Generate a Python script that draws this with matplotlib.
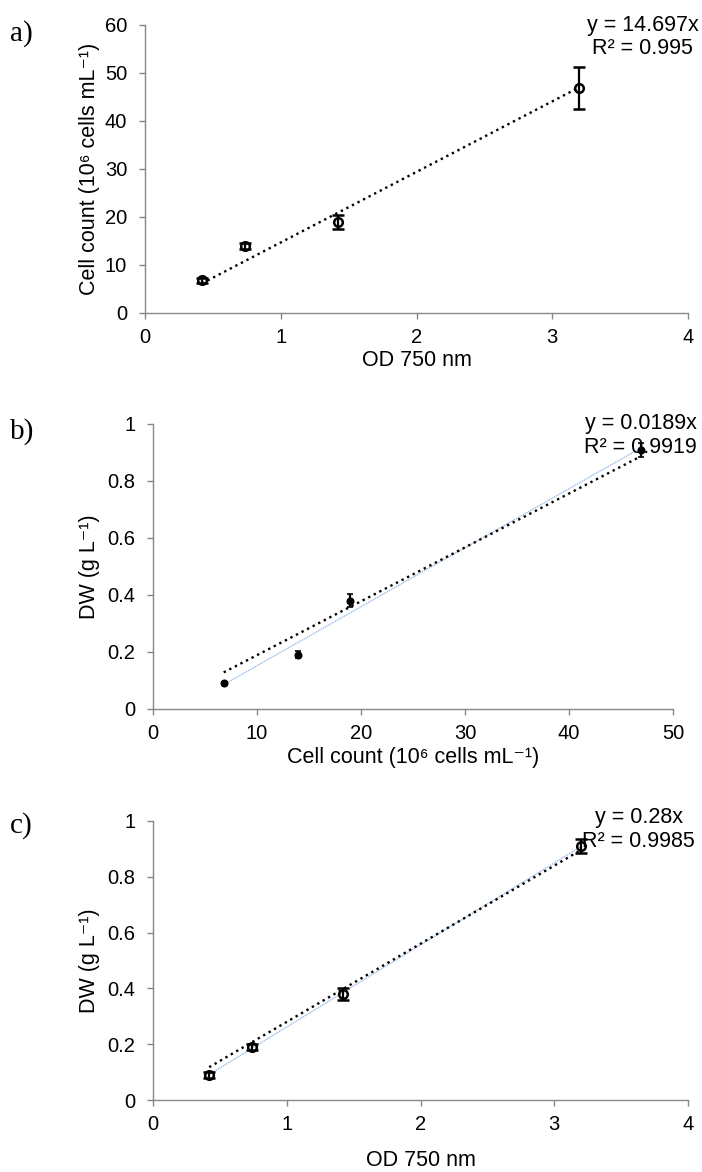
import numpy as np
import matplotlib
matplotlib.use("Agg")
import matplotlib.pyplot as plt

plt.rcParams["font.family"] = ["Liberation Sans", "DejaVu Sans"]

# Calibration measurements
od750 = [0.42, 0.74, 1.42, 3.20]
cell_count = [6.8, 13.9, 18.9, 46.9]
cell_count_err = [0.5, 0.6, 1.5, 4.4]
dry_weight = [0.09, 0.19, 0.38, 0.91]
dry_weight_err_b = [0.006, 0.012, 0.022, 0.025]
dry_weight_err_c = [0.010, 0.012, 0.022, 0.025]

# Trendlines forced through the origin (slope, R²)
slope_a, r2_a = 14.697, 0.995
slope_b, r2_b = 0.0189, 0.9919
slope_c, r2_c = 0.28, 0.9985

ticks_a_x = [0, 1, 2, 3, 4]
ticks_a_y = [0, 10, 20, 30, 40, 50, 60]
ticks_b_x = [0, 10, 20, 30, 40, 50]
ticks_dw = [0, 0.2, 0.4, 0.6, 0.8, 1.0]
ticks_dw_labels = ["0", "0.2", "0.4", "0.6", "0.8", "1"]

W, H = 702, 1172
fig = plt.figure(figsize=(W / 100, H / 100), dpi=100)

AXIS_GREY = "#888888"
FS_TICK = 14.5
FS_LABEL = 15.5
FS_EQ = 15.5


def frame(left, right, top, bottom):
    return fig.add_axes([left / W, 1 - bottom / H, (right - left) / W, (bottom - top) / H])


def style(ax):
    for s in ("top", "right"):
        ax.spines[s].set_visible(False)
    for s in ("left", "bottom"):
        ax.spines[s].set_color(AXIS_GREY)
        ax.spines[s].set_linewidth(1.0)
    ax.tick_params(direction="out", length=4.3, width=1.0, color=AXIS_GREY,
                   labelsize=FS_TICK, labelcolor="black")
    ax.tick_params(axis="y", pad=8.5)
    ax.tick_params(axis="x", pad=6.5)


def equation(ax, xc, y1, y2, eq, r2):
    ax.text(xc, y1, eq, transform=ax.transAxes, ha="center", va="center", fontsize=FS_EQ)
    ax.text(xc, y2, r2, transform=ax.transAxes, ha="center", va="center", fontsize=FS_EQ)


def trend(ax, x, slope):
    xs = np.array([min(x), max(x)])
    ax.plot(xs, slope * xs, color="black", linestyle=":", linewidth=1.7, zorder=2)


def free_fit(ax, x, y):
    k, b = np.polyfit(x, y, 1)
    xs = np.array([min(x), max(x)])
    ax.plot(xs, k * xs + b, color="#8fb8e6", linestyle=(0, (1, 0.6)), linewidth=0.9, zorder=1)


LBL_CELLS = "Cell count (10\u2076 cells mL\u207b\u00b9)"
LBL_DW = "DW (g L\u207b\u00b9)"

# a) cell count vs OD750
ax_a = frame(145, 688, 25, 313)
style(ax_a)
trend(ax_a, od750, slope_a)
ax_a.errorbar(od750, cell_count, yerr=cell_count_err, fmt="o", color="black",
              mfc="none", mec="black", ms=6.2, mew=1.8, elinewidth=1.6,
              capsize=4.5, capthick=1.6, zorder=3)
ax_a.set_xlim(0, 4)
ax_a.set_ylim(0, 60)
ax_a.set_xticks(ticks_a_x)
ax_a.set_yticks(ticks_a_y)
ax_a.set_xlabel("OD 750 nm", fontsize=FS_LABEL, va="center")
ax_a.set_ylabel(LBL_CELLS, fontsize=FS_LABEL, va="center")
ax_a.xaxis.set_label_coords(0.5, (313 - 360) / 288)
ax_a.yaxis.set_label_coords((90 - 145) / 543, 0.5)
equation(ax_a, 0.917, 1.0, 0.918, "y = 14.697x", "R² = 0.995")

# b) dry weight vs cell count
ax_b = frame(153, 673, 424, 709)
style(ax_b)
free_fit(ax_b, cell_count, dry_weight)
trend(ax_b, cell_count, slope_b)
ax_b.errorbar(cell_count, dry_weight, yerr=dry_weight_err_b, fmt="o", color="black",
              mfc="black", mec="black", ms=4.8, elinewidth=1.6,
              capsize=2.5, capthick=1.2, zorder=3)
ax_b.set_xlim(0, 50)
ax_b.set_ylim(0, 1)
ax_b.set_xticks(ticks_b_x)
ax_b.set_yticks(ticks_dw)
ax_b.set_yticklabels(ticks_dw_labels)
ax_b.set_xlabel(LBL_CELLS, fontsize=FS_LABEL, va="center")
ax_b.set_ylabel(LBL_DW, fontsize=FS_LABEL, va="center")
ax_b.xaxis.set_label_coords(0.5, (709 - 757) / 285)
ax_b.yaxis.set_label_coords((90 - 153) / 520, 0.5)
equation(ax_b, 0.938, 1.0, 0.916, "y = 0.0189x", "R² = 0.9919")

# c) dry weight vs OD750
ax_c = frame(153, 688, 821, 1100)
style(ax_c)
free_fit(ax_c, od750, dry_weight)
trend(ax_c, od750, slope_c)
ax_c.errorbar(od750, dry_weight, yerr=dry_weight_err_c, fmt="o", color="black",
              mfc="none", mec="black", ms=6.2, mew=1.8, elinewidth=1.6,
              capsize=4.5, capthick=1.6, zorder=3)
ax_c.set_xlim(0, 4)
ax_c.set_ylim(0, 1)
ax_c.set_xticks(ticks_a_x)
ax_c.set_yticks(ticks_dw)
ax_c.set_yticklabels(ticks_dw_labels)
ax_c.set_xlabel("OD 750 nm", fontsize=FS_LABEL, va="center")
ax_c.set_ylabel(LBL_DW, fontsize=FS_LABEL, va="center")
ax_c.xaxis.set_label_coords(0.5, (1100 - 1160) / 279)
ax_c.yaxis.set_label_coords((90 - 153) / 535, 0.5)
equation(ax_c, 0.908, 1.011, 0.925, "y = 0.28x", "R² = 0.9985")

# Panel letters
for letter, yc in (("a)", 34), ("b)", 432), ("c)", 826)):
    fig.text(10 / W, 1 - yc / H, letter, ha="left", va="center", fontsize=21,
             family=["Liberation Serif", "DejaVu Serif"])

fig.savefig("out.png", dpi=100)
